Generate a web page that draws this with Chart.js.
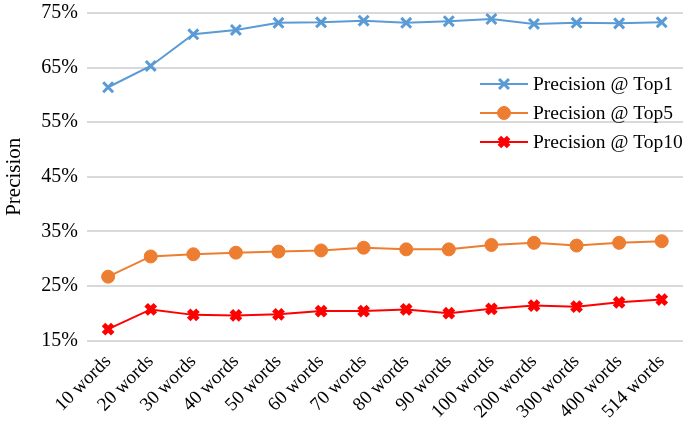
<!DOCTYPE html>
<html>
<head>
<meta charset="utf-8">
<script src="https://cdn.jsdelivr.net/npm/chart.js@4/dist/chart.umd.min.js"></script>
<style>
  html, body { margin: 0; padding: 0; background: #fff; }
  #wrap { width: 685px; height: 422px; }
</style>
</head>
<body>
<div id="wrap"><canvas id="graphic__precision"></canvas></div>
<script>
const categories = ['10 words', '20 words', '30 words', '40 words', '50 words', '60 words', '70 words',
    '80 words', '90 words', '100 words', '200 words', '300 words', '400 words', '514 words'];

// precision values in %
const top1 = [61.4, 65.3, 71.1, 71.9, 73.2, 73.3, 73.6, 73.2, 73.5, 73.9, 73.0, 73.2, 73.1, 73.3];
const top5 = [26.7, 30.4, 30.8, 31.1, 31.3, 31.5, 32.0, 31.7, 31.7, 32.5, 32.9, 32.4, 32.9, 33.2];
const top10 = [17.1, 20.7, 19.7, 19.6, 19.8, 20.4, 20.4, 20.7, 20.0, 20.8, 21.4, 21.2, 22.0, 22.5];

const yMin = 15;
const yMax = 75;
const yStep = 10;

const serif = "'Liberation Serif', 'Times New Roman', serif";

// legend drawn inside the plot, top right
const insideLegend = {
    id: 'insideLegend',
    afterDraw(chart) {
        const ctx = chart.ctx;
        const x0 = 480;
        let y = 84;
        chart.data.datasets.forEach((ds) => {
            ctx.save();
            ctx.strokeStyle = ds.borderColor;
            ctx.fillStyle = ds.borderColor;
            ctx.lineWidth = ds.borderWidth;
            ctx.beginPath();
            ctx.moveTo(x0, y);
            ctx.lineTo(x0 + 48, y);
            ctx.stroke();
            ctx.lineWidth = ds.pointBorderWidth;
            Chart.helpers.drawPoint(ctx, {
                pointStyle: ds.pointStyle,
                radius: ds.pointRadius,
                borderWidth: ds.pointBorderWidth,
                rotation: 0
            }, x0 + 24, y);
            ctx.fillStyle = '#000';
            ctx.font = '19.5px ' + serif;
            ctx.textBaseline = 'middle';
            ctx.fillText(ds.label, x0 + 53, y + 1);
            ctx.restore();
            y += 29;
        });
    }
};

const ctx = document.querySelector('#graphic__precision').getContext('2d');

const config = {
    type: 'line',
    data: {
        labels: categories,
        datasets: [
            {
                label: 'Precision @ Top1',
                data: top1,
                borderColor: '#5B9BD5',
                backgroundColor: '#5B9BD5',
                borderWidth: 2,
                pointStyle: 'crossRot',
                pointRadius: 7,
                pointBorderWidth: 3,
                pointBorderColor: '#5B9BD5',
                tension: 0
            },
            {
                label: 'Precision @ Top5',
                data: top5,
                borderColor: '#ED7D31',
                backgroundColor: '#ED7D31',
                borderWidth: 2,
                pointStyle: 'circle',
                pointRadius: 6.5,
                pointBorderWidth: 1,
                pointBorderColor: '#ED7D31',
                tension: 0
            },
            {
                label: 'Precision @ Top10',
                data: top10,
                borderColor: '#FF0000',
                backgroundColor: '#FF0000',
                borderWidth: 2,
                pointStyle: 'crossRot',
                pointRadius: 6.5,
                pointBorderWidth: 5,
                pointBorderColor: '#FF0000',
                tension: 0
            }
        ]
    },
    options: {
        responsive: true,
        maintainAspectRatio: false,
        animation: false,
        layout: {
            autoPadding: false,
            padding: { left: 0, right: 2, top: 13, bottom: -3 }
        },
        plugins: {
            legend: { display: false },
            tooltip: { enabled: false }
        },
        scales: {
            x: {
                offset: true,
                grid: { display: false },
                border: { display: false },
                ticks: {
                    color: '#000',
                    minRotation: 45,
                    maxRotation: 45,
                    autoSkip: false,
                    padding: 2,
                    font: { family: serif, size: 19 }
                }
            },
            y: {
                min: yMin,
                max: yMax,
                grid: {
                    color: '#D9D9D9',
                    lineWidth: 2,
                    drawTicks: false
                },
                border: { display: false },
                // top label may overhang the padding, like the original
                afterFit: (scale) => { scale.paddingTop = 0; },
                ticks: {
                    stepSize: yStep,
                    color: '#000',
                    padding: 9,
                    font: { family: serif, size: 20 },
                    callback: (v) => v + '%'
                },
                title: {
                    display: true,
                    text: 'Precision',
                    color: '#000',
                    padding: { top: 2, bottom: 5 },
                    font: { family: serif, size: 21 }
                }
            }
        }
    },
    plugins: [insideLegend]
};

const myChart = new Chart(ctx, config);
</script>
</body>
</html>
